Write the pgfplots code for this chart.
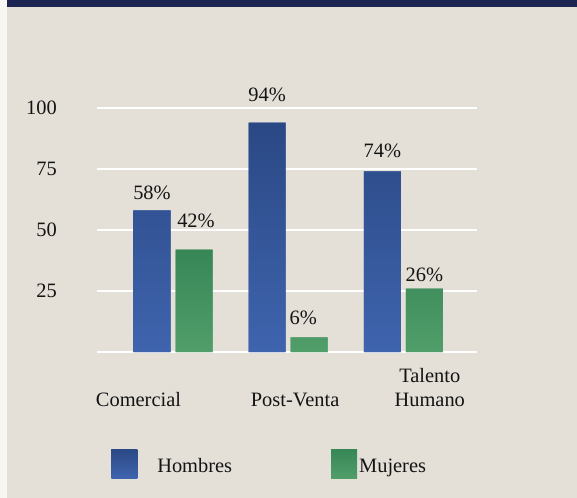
\documentclass[border=0pt]{standalone}
\usepackage{pgfplots}
\usepackage{pgfplotstable}
\usepackage{fontspec}
\setmainfont{Liberation Serif}
\pgfplotsset{compat=1.18}
\definecolor{bg}{HTML}{E4E0D8}
\definecolor{navy}{HTML}{1C2452}
\definecolor{bluetop}{HTML}{2A4884}
\definecolor{bluebot}{HTML}{3F64AE}
\definecolor{greentop}{HTML}{378656}
\definecolor{greenbot}{HTML}{519E6A}
\definecolor{txt}{HTML}{141414}
\pgfplotstableread{
x y dy dx
0 58 10.5 -21
1 94 20.6 -21
2 74 13.4 -21
}\hombres
\pgfplotstableread{
x y dy dx
0 42 21.5 23
1 6 12.4 15
2 26 6.6 21
}\mujeres
\begin{document}
\begin{tikzpicture}
\fill[bg] (0,0) rectangle (577bp,498bp);
\fill[navy] (7bp,491bp) rectangle (577bp,498bp);
\fill[white!70!bg] (0,0) rectangle (7bp,498bp);
\begin{axis}[
  at={(97bp,146bp)}, anchor=south west,
  scale only axis, width=380bp, height=244bp,
  xmin=-0.66, xmax=2.64, ymin=0, ymax=100,
  axis line style={draw=none},
  major tick length=0pt,
  ytick={0,25,50,75,100},
  yticklabels={{},25,50,75,100},
  ymajorgrids, grid style={white, line width=2bp},
  xtick={-0.30,1.06,2.23},
  xticklabels={Comercial,Post-Venta,{Talento\\Humano}},
  /pgf/number format/assume math mode=true,
  ticklabel style={font=\fontsize{20.5}{24}\selectfont, text=txt, inner sep=0pt},
  yticklabel style={anchor=east, xshift=-40bp},
  xticklabel style={anchor=south, align=center, yshift=-55bp},
  clip=false,
  nodes near coords={\pgfmathprintnumber{\pgfplotspointmeta}\%},
  visualization depends on={\thisrow{dy}\as\labdy},
  visualization depends on={\thisrow{dx}\as\labdx},
  every node near coord/.append style={font=\fontsize{20.5}{24}\selectfont, text=txt, inner sep=0pt, anchor=south, yshift=\labdy*1bp, xshift=\labdx*1bp},
  legend columns=2,
  legend style={at={(0.037,-0.458)}, anchor=west, draw=none, fill=none, inner sep=0pt,
    font=\fontsize{20.5}{24}\selectfont, text=txt,
    nodes={inner sep=0pt},
    /tikz/every odd column/.style={column sep=2bp},
    /tikz/every even column/.style={column sep=99bp}},
  legend image code/.code={\fill[#1] (0bp,-12bp) rectangle (26bp,17bp);},
]
\addplot[ybar, bar width=37bp, bar shift=-21bp, draw=none, top color=bluetop, bottom color=bluebot, fill=bluebot, point meta=y]
  table[x=x, y=y] {\hombres};
\addlegendentry{\hspace*{18bp}Hombres}
\addplot[ybar, bar width=37bp, bar shift=21bp, draw=none, top color=greentop, bottom color=greenbot, fill=greenbot, point meta=y]
  table[x=x, y=y] {\mujeres};
\addlegendentry{Mujeres}
\end{axis}
\end{tikzpicture}
\end{document}
